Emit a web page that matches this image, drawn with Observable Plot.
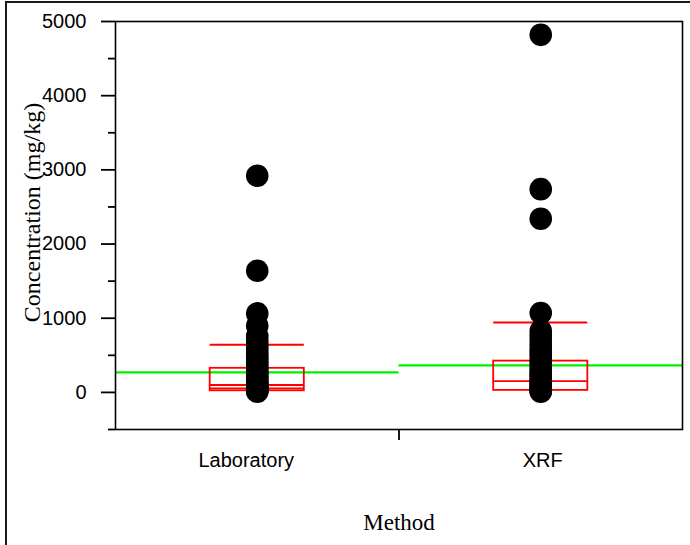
<!DOCTYPE html>
<html>
<head>
<meta charset="utf-8">
<script src="https://cdn.jsdelivr.net/npm/d3@7"></script>
<script src="https://cdn.jsdelivr.net/npm/@observablehq/plot@0.6"></script>
<style>
  html, body { margin: 0; padding: 0; background: white; overflow: hidden; }
  #wrap { position: relative; width: 690px; height: 545px; }
  #border { position: absolute; left: 5px; top: 1px; width: 900px; height: 800px;
            border-left: 2px solid #1a1a1a; border-top: 2px solid #1a1a1a; pointer-events: none; }
</style>
</head>
<body>
<div id="wrap"><div id="border"></div></div>
<script>
// ---- data ----
const categories = ["Laboratory", "XRF"];
const labValues = [2920, 1640, 1065, 900, 760, 700, 650, 600, 550, 500, 460, 420, 380, 340, 300, 270, 240, 210, 180, 150, 125, 100, 85, 70, 55, 40, 30, 20, 10];
const xrfValues = [4820, 2740, 2340, 1070, 830, 770, 710, 650, 590, 540, 490, 440, 400, 360, 320, 280, 250, 220, 190, 160, 140, 120, 100, 80, 60, 45, 30, 20, 10];
const groupMeans = [270, 365];
const q1Values = [22, 27];
const medianValues = [100, 152];
const q3Values = [325, 422];
const p90Values = [643, 943];
const labExtraLine = [54];
const yMajorTicks = [0, 1000, 2000, 3000, 4000, 5000];
const yMinorTicks = [-500, 500, 1500, 2500, 3500, 4500];
const yLabel = "Concentration (mg/kg)";
const xLabel = "Method";

// ---- derived tables ----
const points = [labValues, xrfValues].flatMap((vals, i) => vals.map(v => ({x: i + 0.5, v})));
const half = 0.166;
const boxes = categories.map((c, i) => ({c, x1: i + 0.5 - half, x2: i + 0.5 + half,
  q1: q1Values[i], med: medianValues[i], q3: q3Values[i], p90: p90Values[i], mean: groupMeans[i], g1: i, g2: i + 1}));
const extra = labExtraLine.map(v => ({v, x1: 0.5 - half, x2: 0.5 + half}));

const red = "#ff0000";
const green = "#00f000";
const serif = "'Liberation Serif', 'Times New Roman', serif";

const chart = Plot.plot({
  width: 690,
  height: 545,
  marginLeft: 115,
  marginRight: 8,
  marginTop: 21,
  marginBottom: 116,
  x: {domain: [0, 2]},
  y: {domain: [-500, 5000]},
  style: {fontFamily: "'Liberation Sans', Arial, sans-serif", fontSize: "20px", background: "white", color: "black"},
  marks: [
    // green group mean lines
    Plot.ruleY(boxes, {y: "mean", x1: "g1", x2: "g2", stroke: green, strokeWidth: 2.2}),
    // red quantile boxes
    Plot.rect(boxes, {x1: "x1", x2: "x2", y1: "q1", y2: "q3", fill: "none", stroke: red, strokeWidth: 1.8}),
    Plot.ruleY(boxes, {y: "med", x1: "x1", x2: "x2", stroke: red, strokeWidth: 1.8}),
    Plot.ruleY(extra, {y: "v", x1: "x1", x2: "x2", stroke: red, strokeWidth: 1.8}),
    Plot.ruleY(boxes, {y: "p90", x1: "x1", x2: "x2", stroke: red, strokeWidth: 2}),
    // points
    Plot.dot(points, {x: "x", y: "v", r: 11.3, fill: "black", stroke: "none"}),
    // frame
    Plot.frame({stroke: "black", strokeWidth: 1.6}),
    // y axis
    Plot.axisY({ticks: yMajorTicks, tickSize: 14, tickPadding: 15, tickFormat: d => String(d), label: null, fontSize: 20, strokeWidth: 1.8}),
    Plot.axisY({ticks: yMinorTicks, tickSize: 7, tickFormat: () => "", label: null, strokeWidth: 1.8}),
    // x axis
    Plot.axisX({ticks: [1], tickSize: 11, tickFormat: () => "", label: null, strokeWidth: 1.8}),
    Plot.axisX({ticks: [0.5], tickSize: 0, tickPadding: 23, tickFormat: () => categories[0], label: null, fontSize: 20, dx: -11}),
    Plot.axisX({ticks: [1.5], tickSize: 0, tickPadding: 23, tickFormat: () => categories[1], label: null, fontSize: 20, dx: 2}),
    // axis titles
    Plot.text([yLabel], {frameAnchor: "left", textAnchor: "middle", lineAnchor: "middle", dx: -83, dy: -13, rotate: -90,
      fontSize: 24, fontFamily: serif, fill: "black"}),
    Plot.text([xLabel], {frameAnchor: "bottom", textAnchor: "middle", lineAnchor: "middle", dy: 93,
      fontSize: 23, fontFamily: serif, fill: "black"})
  ]
});
chart.style.position = "absolute";
chart.style.left = "0";
chart.style.top = "0";
chart.style.background = "transparent";
document.getElementById("wrap").insertBefore(chart, document.getElementById("border"));
</script>
</body>
</html>
